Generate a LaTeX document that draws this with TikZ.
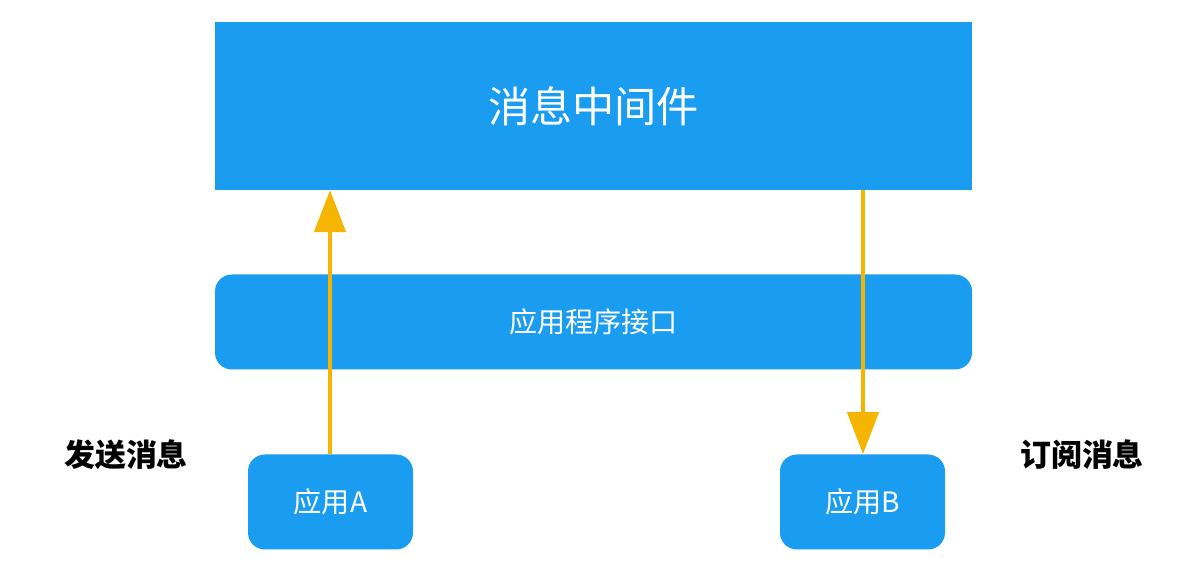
\documentclass[tikz,border=0pt]{standalone}
\usepackage{fontspec}
\setmainfont{Noto Sans CJK SC}
\usetikzlibrary{arrows.meta, positioning}
\definecolor{mwblue}{HTML}{1A9CF0}
\definecolor{arrowgold}{HTML}{F5B400}

\begin{document}
\begin{tikzpicture}[
    x=0.025cm, y=-0.025cm,
    box/.style={fill=mwblue, text=white, inner sep=0pt},
    appbox/.style={box, rounded corners=12pt, minimum width=165*0.025cm, minimum height=95*0.025cm, font=\fontsize{20}{24}\selectfont},
    flow/.style={arrowgold, line width=3.5pt, -{Triangle[width=22pt, length=30pt]}},
    side/.style={font=\fontsize{22}{26}\selectfont\bfseries}
]
\useasboundingbox (0,0) rectangle (1177,569);

\node (mw) [box, minimum width=757*0.025cm, minimum height=168*0.025cm, font=\fontsize{30}{36}\selectfont] at (593.5,106) {消息中间件};
\node (api) [box, rounded corners=12pt, minimum width=757*0.025cm, minimum height=95*0.025cm, font=\fontsize{20}{24}\selectfont] at (593.5,322) {应用程序接口};
\node (appA) [appbox] at (330.5,502) {应用A};
\node (appB) [appbox] at (862.5,502) {应用B};

\node (send) [side] at (126,455) {发送消息};
\node (sub) [side] at (1082,455) {订阅消息};

\coordinate (aTop) at (330,190);
\coordinate (bTop) at (863,190);
\draw[flow] (appA.north -| aTop) -- (aTop);
\draw[flow] (bTop) -- (appB.north -| bTop);

\end{tikzpicture}
\end{document}
